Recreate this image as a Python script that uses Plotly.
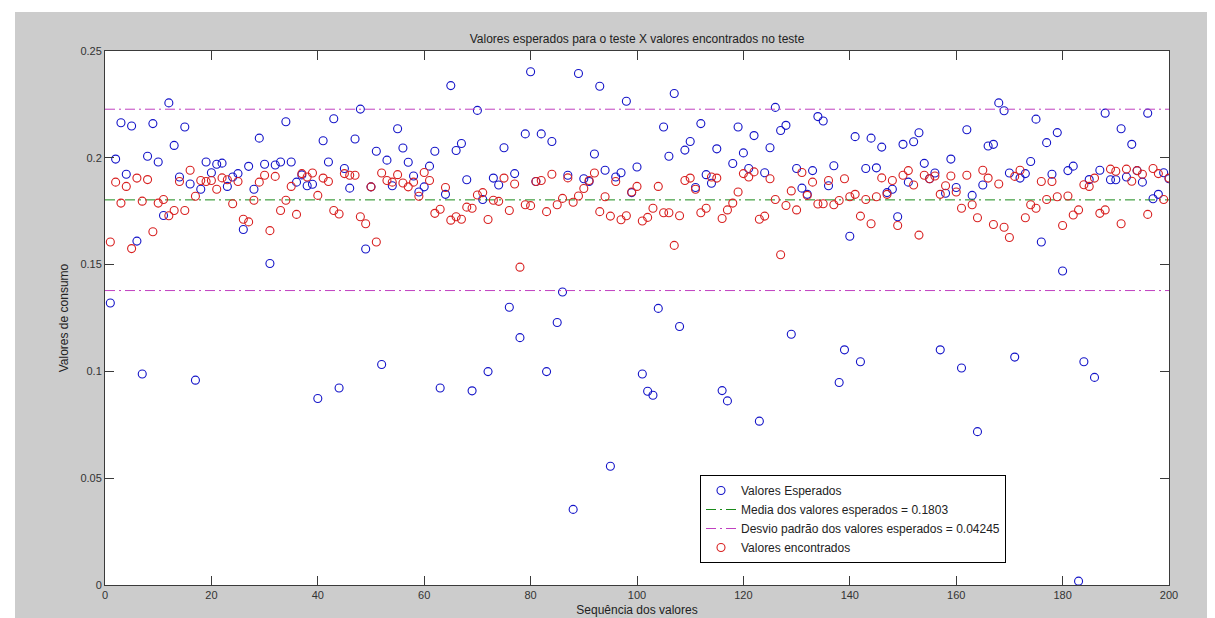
import plotly.graph_objects as go

# ---------------- data ----------------
indices = list(range(1, 201))

valores_esperados = [
    0.132, 0.1994, 0.2164, 0.1923, 0.2149, 0.161, 0.0988, 0.2007, 0.216, 0.198,
    0.173, 0.2257, 0.2058, 0.191, 0.2144, 0.1877, 0.0959, 0.1853, 0.198, 0.193,
    0.197, 0.1975, 0.1866, 0.191, 0.1926, 0.1664, 0.196, 0.1853, 0.2092, 0.197,
    0.1505, 0.1966, 0.198, 0.2169, 0.198, 0.1886, 0.192, 0.1869, 0.1876, 0.0873,
    0.208, 0.198, 0.2183, 0.0922, 0.195, 0.1858, 0.2088, 0.2228, 0.1573, 0.1864,
    0.2031, 0.1032, 0.1989, 0.1869, 0.2136, 0.2046, 0.1979, 0.1915, 0.184, 0.1864,
    0.1961, 0.2031, 0.0922, 0.1829, 0.2338, 0.2034, 0.2067, 0.1897, 0.0909, 0.2222,
    0.1805, 0.0999, 0.1905, 0.1873, 0.2047, 0.130, 0.1926, 0.1158, 0.2112, 0.2403,
    0.1889, 0.2112, 0.0999, 0.2076, 0.1229, 0.1372, 0.1918, 0.0354, 0.2395, 0.1902,
    0.1889, 0.2018, 0.2335, 0.1942, 0.0556, 0.191, 0.193, 0.2265, 0.1837, 0.1957,
    0.0988, 0.0907, 0.0888, 0.1295, 0.2144, 0.2007, 0.2301, 0.121, 0.2036, 0.2076,
    0.1861, 0.216, 0.1921, 0.1881, 0.2042, 0.091, 0.0862, 0.1973, 0.2144, 0.2023,
    0.195, 0.2104, 0.0767, 0.193, 0.2047, 0.2236, 0.2128, 0.2152, 0.1174, 0.195,
    0.1858, 0.1829, 0.194, 0.2193, 0.2172, 0.1869, 0.1963, 0.0948, 0.1101, 0.1633,
    0.2099, 0.1045, 0.195, 0.2092, 0.1953, 0.205, 0.1837, 0.1853, 0.1724, 0.2063,
    0.1886, 0.2075, 0.2117, 0.1974, 0.1902, 0.1929, 0.1101, 0.1834, 0.1994, 0.1861,
    0.1016, 0.2131, 0.1824, 0.0718, 0.1873, 0.2055, 0.2063, 0.2257, 0.222, 0.1929,
    0.1067, 0.1905, 0.1926, 0.1983, 0.2181, 0.1606, 0.2071, 0.1923, 0.2118, 0.147,
    0.194, 0.1961, 0.0018, 0.1045, 0.1898, 0.0972, 0.1942, 0.2209, 0.1897, 0.1897,
    0.2136, 0.191, 0.2063, 0.194, 0.1886, 0.2209, 0.1808, 0.1829, 0.193, 0.1902,
]

valores_encontrados = [
    0.1606, 0.1886, 0.1788, 0.1866, 0.1575, 0.1905, 0.1797, 0.1898, 0.1654, 0.1788,
    0.1805, 0.1729, 0.1753, 0.1889, 0.1753, 0.1942, 0.182, 0.1894, 0.1889, 0.1894,
    0.1853, 0.1906, 0.1897, 0.1785, 0.1889, 0.1712, 0.170, 0.1801, 0.1886, 0.1918,
    0.1659, 0.1913, 0.1753, 0.1801, 0.1866, 0.1735, 0.1926, 0.191, 0.1929, 0.1824,
    0.1905, 0.1889, 0.1753, 0.1737, 0.1926, 0.1918, 0.1918, 0.1724, 0.1691, 0.1864,
    0.1606, 0.1929, 0.1894, 0.1886, 0.1921, 0.1882, 0.1864, 0.1886, 0.182, 0.1931,
    0.1894, 0.174, 0.1759, 0.1861, 0.1708, 0.1724, 0.1712, 0.1769, 0.1764, 0.1826,
    0.1837, 0.1711, 0.1801, 0.1796, 0.1905, 0.1753, 0.1877, 0.1488, 0.178, 0.1776,
    0.1889, 0.1894, 0.1748, 0.1923, 0.178, 0.181, 0.1906, 0.1792, 0.1821, 0.1856,
    0.1894, 0.1929, 0.1748, 0.1818, 0.1727, 0.1889, 0.171, 0.1729, 0.184, 0.1866,
    0.1704, 0.1721, 0.1764, 0.1866, 0.1743, 0.1743, 0.159, 0.1729, 0.1894, 0.1905,
    0.1853, 0.1743, 0.1764, 0.191, 0.1905, 0.1716, 0.1756, 0.1788, 0.184, 0.1926,
    0.191, 0.1934, 0.1712, 0.1727, 0.1902, 0.1805, 0.1546, 0.1777, 0.1845, 0.1756,
    0.1931, 0.1824, 0.1886, 0.1784, 0.1785, 0.1894, 0.178, 0.18, 0.1902, 0.1818,
    0.1829, 0.1727, 0.1805, 0.1691, 0.1818, 0.1906, 0.1829, 0.1894, 0.1683, 0.1918,
    0.194, 0.1873, 0.1638, 0.1918, 0.1902, 0.1915, 0.1829, 0.1869, 0.1915, 0.184,
    0.1764, 0.1918, 0.178, 0.1719, 0.1942, 0.1905, 0.1688, 0.1877, 0.1675, 0.1627,
    0.1913, 0.1942, 0.1719, 0.178, 0.1764, 0.1889, 0.1805, 0.1889, 0.1818, 0.1683,
    0.1821, 0.1732, 0.1756, 0.1874, 0.1866, 0.1905, 0.174, 0.1756, 0.1947, 0.1937,
    0.1691, 0.1947, 0.189, 0.194, 0.1923, 0.1735, 0.195, 0.1926, 0.1805, 0.1905,
]

media_esperados = 0.1803
desvio_esperados = 0.04245
x_limits = [0, 200]
x_ticks = [0, 20, 40, 60, 80, 100, 120, 140, 160, 180, 200]
y_ticks = [0, 0.05, 0.1, 0.15, 0.2, 0.25]

# ---------------- figure ----------------
W, H = 1215, 618
L, R, T, B = 97, 54, 43, 41
FONT = "Liberation Sans, Arial, sans-serif"

fig = go.Figure()

fig.add_trace(go.Scatter(
    x=indices, y=valores_esperados, mode="markers",
    name="Valores Esperados",
    marker=dict(symbol="circle-open", size=8, color="#1414c8", line=dict(width=1.1, color="#1414c8")),
))

fig.add_trace(go.Scatter(
    x=x_limits, y=[media_esperados, media_esperados], mode="lines",
    name="Media dos valores esperados = %.4f" % media_esperados,
    line=dict(color="#1a8a1a", width=1, dash="10px,4px,2px,4px"),
))

fig.add_trace(go.Scatter(
    x=[x_limits[0], x_limits[1], None, x_limits[0], x_limits[1]],
    y=[media_esperados + desvio_esperados, media_esperados + desvio_esperados, None,
       media_esperados - desvio_esperados, media_esperados - desvio_esperados],
    mode="lines", connectgaps=False,
    name="Desvio padrão dos valores esperados = %.5f" % desvio_esperados,
    line=dict(color="#c040c0", width=1, dash="10px,4px,2px,4px"),
))

fig.add_trace(go.Scatter(
    x=indices, y=valores_encontrados, mode="markers",
    name="Valores encontrados",
    marker=dict(symbol="circle-open", size=8, color="#d82020", line=dict(width=1.1, color="#d82020")),
))

axis_common = dict(
    showline=True, linecolor="#3a3a3a", linewidth=1, mirror="ticks",
    ticks="inside", ticklen=9, tickcolor="#3a3a3a", tickwidth=1,
    showgrid=False, zeroline=False,
    tickfont=dict(family=FONT, size=11, color="#333333"),
)

# helpers: figure pixel -> paper coordinates (for the white edge strips and legend)
px2x = lambda p: (p - L) / (W - L - R)
py2y = lambda p: 1 - (p - T) / (H - T - B)

fig.update_layout(
    width=W, height=H,
    margin=dict(l=L, r=R, t=T, b=B),
    paper_bgcolor="#cccccc", plot_bgcolor="#ffffff",
    font=dict(family=FONT, size=11, color="#222222"),
    title=dict(text="Valores esperados para o teste X valores encontrados no teste",
               x=0.5, xref="paper", y=1 - 31 / H, yref="container",
               xanchor="center", yanchor="middle",
               font=dict(family=FONT, size=12, color="#222222")),
    xaxis=dict(range=x_limits, tickvals=x_ticks, **axis_common,
               title=dict(text="Sequência dos valores", standoff=5,
                          font=dict(family=FONT, size=12, color="#222222"))),
    yaxis=dict(range=[0, 0.25], tickvals=y_ticks, **axis_common,
               title=dict(text="Valores de consumo", standoff=9,
                          font=dict(family=FONT, size=12, color="#222222"))),
    legend=dict(x=px2x(692), y=py2y(467), xanchor="left", yanchor="top",
                bgcolor="#ffffff", bordercolor="#000000", borderwidth=1,
                font=dict(family=FONT, size=12, color="#222222"),
                tracegroupgap=0, itemwidth=30),
    showlegend=True,
    shapes=[
        dict(type="rect", xref="paper", yref="paper", x0=px2x(0), x1=px2x(7),
             y0=py2y(H), y1=py2y(0), fillcolor="#ffffff", line=dict(width=0), layer="below"),
        dict(type="rect", xref="paper", yref="paper", x0=px2x(0), x1=px2x(W),
             y0=py2y(4), y1=py2y(0), fillcolor="#ffffff", line=dict(width=0), layer="below"),
    ],
)

fig.write_html("out.html")
